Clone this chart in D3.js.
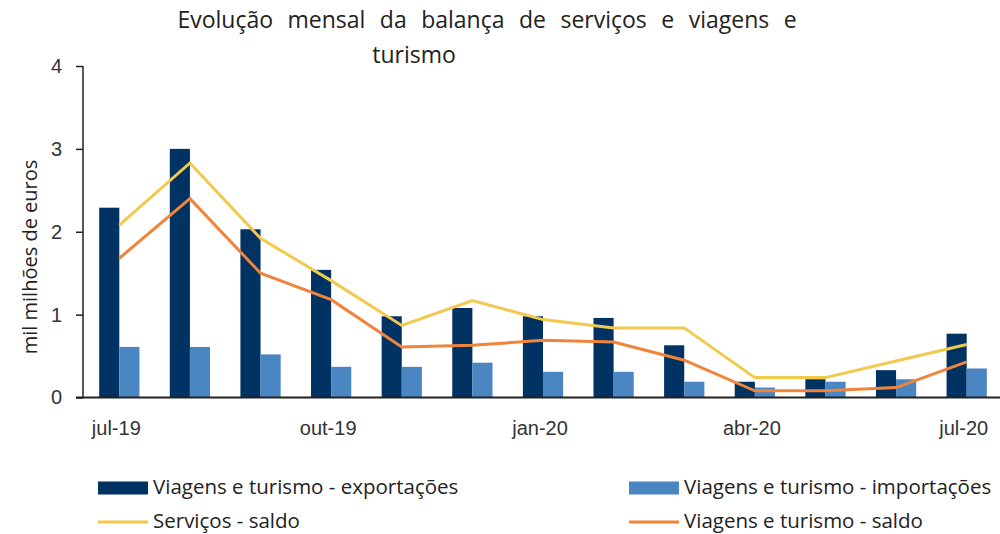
<!DOCTYPE html>
<html>
<head>
<meta charset="utf-8">
<script src="https://cdn.jsdelivr.net/npm/d3@7"></script>
<style>
  body { margin: 0; background: #fff; }
  svg { display: block; font-family: "Open Sans", sans-serif; }
</style>
</head>
<body>
<svg id="chart" width="1000" height="534"></svg>
<script>
// data
var months = ["jul-19", "ago-19", "set-19", "out-19", "nov-19", "dez-19", "jan-20",
              "fev-20", "mar-20", "abr-20", "mai-20", "jun-20", "jul-20"];
var tickLabels = ["jul-19", "out-19", "jan-20", "abr-20", "jul-20"];
var exportacoes = [2.29, 3.00, 2.03, 1.54, 0.98, 1.08, 0.98, 0.96, 0.63, 0.19, 0.22, 0.33, 0.77];
var importacoes = [0.61, 0.61, 0.52, 0.37, 0.37, 0.42, 0.31, 0.31, 0.19, 0.12, 0.19, 0.22, 0.35];
var servicosSaldo = [2.08, 2.83, 1.92, 1.41, 0.87, 1.17, 0.94, 0.84, 0.84, 0.24, 0.24, 0.44, 0.64];
var viagensSaldo = [1.68, 2.40, 1.50, 1.18, 0.61, 0.63, 0.69, 0.67, 0.45, 0.08, 0.08, 0.12, 0.43];
var yTicks = [0, 1, 2, 3, 4];

var colExp = "#003263", colImp = "#4a86c1", colServ = "#f2c94c", colViag = "#f0843a";

var svg = d3.select("#chart");

var x0 = d3.scaleBand()
    .domain(months)
    .range([84, 1002])
    .paddingInner(0.43)
    .paddingOuter(0.215);
var x1 = d3.scaleBand()
    .domain(["exp", "imp"])
    .range([0, x0.bandwidth()]);
var y = d3.scaleLinear()
    .domain([0, 4])
    .range([397.5, 66]);

// y axis
var yAxis = d3.axisLeft(y).tickValues(yTicks).tickSize(7).tickFormat(d3.format("d"));
var gy = svg.append("g")
    .attr("transform", "translate(83,0)")
    .call(yAxis);
gy.select(".domain").attr("d", "M0," + y(4) + "V" + y(0)).attr("stroke", "#222").attr("stroke-width", 1.5);
gy.selectAll(".tick line").attr("stroke", "#222").attr("stroke-width", 1.5);
gy.selectAll(".tick text")
    .attr("x", -21)
    .style("font-size", "20px")
    .attr("fill", "#333");

// bars
var groups = svg.append("g").selectAll("g")
    .data(months)
    .enter().append("g")
    .attr("transform", function (d) { return "translate(" + x0(d) + ",0)"; });
groups.append("rect")
    .attr("x", x1("exp"))
    .attr("width", x1.bandwidth())
    .attr("y", function (d, i) { return y(exportacoes[i]); })
    .attr("height", function (d, i) { return y(0) - y(exportacoes[i]); })
    .attr("fill", colExp);
groups.append("rect")
    .attr("x", x1("imp"))
    .attr("width", x1.bandwidth())
    .attr("y", function (d, i) { return y(importacoes[i]); })
    .attr("height", function (d, i) { return y(0) - y(importacoes[i]); })
    .attr("fill", colImp);

// x axis
var xAxis = d3.axisBottom(x0).tickValues(tickLabels).tickSize(0);
var gx = svg.append("g")
    .attr("transform", "translate(0," + y(0) + ")")
    .call(xAxis);
gx.select(".domain").attr("d", "M76,0H1000").attr("stroke", "#222").attr("stroke-width", 2);
gx.selectAll(".tick text")
    .attr("y", 37)
    .attr("dy", 0)
    .attr("dx", -3)
    .style("font-size", "20px")
    .attr("fill", "#333");

// lines
var line = d3.line()
    .x(function (d, i) { return x0(months[i]) + x0.bandwidth() / 2; })
    .y(function (d) { return y(d); });
svg.append("path").datum(servicosSaldo)
    .attr("d", line).attr("fill", "none")
    .attr("stroke", colServ).attr("stroke-width", 3);
svg.append("path").datum(viagensSaldo)
    .attr("d", line).attr("fill", "none")
    .attr("stroke", colViag).attr("stroke-width", 3);

// title
svg.append("text")
    .attr("x", 487).attr("y", 28)
    .attr("text-anchor", "middle")
    .style("font-size", "23px")
    .style("word-spacing", "8.5px")
    .attr("fill", "#222")
    .text("Evolução mensal da balança de serviços e viagens e");
svg.append("text")
    .attr("x", 414).attr("y", 63)
    .attr("text-anchor", "middle")
    .style("font-size", "23px")
    .attr("fill", "#222")
    .text("turismo");

// y label
svg.append("text")
    .attr("transform", "translate(37,257) rotate(-90)")
    .attr("text-anchor", "middle")
    .style("font-size", "20px")
    .attr("fill", "#222")
    .text("mil milhões de euros");

// legend
var legend = [
    { name: "Viagens e turismo - exportações", color: colExp, type: "bar", x: 98, y: 488 },
    { name: "Viagens e turismo - importações", color: colImp, type: "bar", x: 629, y: 488 },
    { name: "Serviços - saldo", color: colServ, type: "line", x: 98, y: 522 },
    { name: "Viagens e turismo - saldo", color: colViag, type: "line", x: 629, y: 522 }
];
var lg = svg.append("g").selectAll("g")
    .data(legend)
    .enter().append("g")
    .attr("transform", function (d) { return "translate(" + d.x + "," + d.y + ")"; });
lg.append("rect")
    .attr("x", 0)
    .attr("y", function (d) { return d.type == "bar" ? -6.5 : -1.5; })
    .attr("width", 50)
    .attr("height", function (d) { return d.type == "bar" ? 13 : 3; })
    .attr("fill", function (d) { return d.color; });
lg.append("text")
    .attr("x", 55)
    .attr("y", 6)
    .style("font-size", "20.5px")
    .attr("fill", "#222")
    .text(function (d) { return d.name; });
</script>
</body>
</html>
